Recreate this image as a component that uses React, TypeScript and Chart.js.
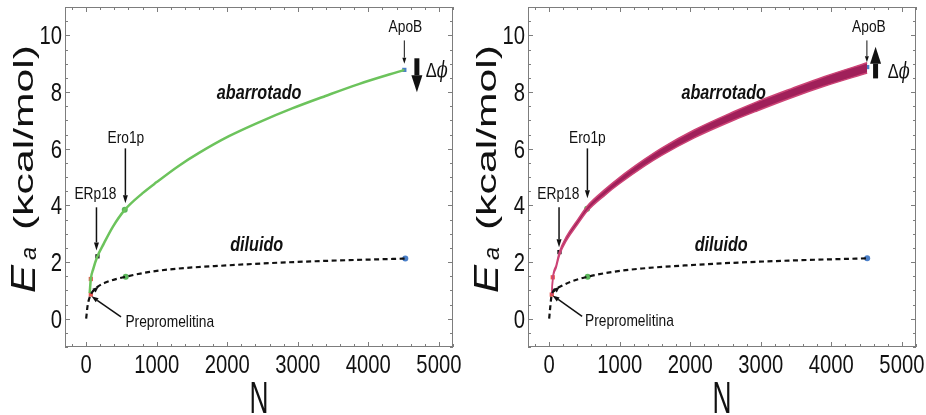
import React, { useEffect, useRef } from "react";
import { Chart, registerables } from "chart.js";
Chart.register(...registerables);

const SANS = "'Liberation Sans', Arial, sans-serif";
const NARROW_SX = 0.81; // horizontal compression to mimic a condensed face

// Axes
const xTickLabels = [0, 1000, 2000, 3000, 4000, 5000];
const yTickLabels = [0, 2, 4, 6, 8, 10];
const X_MIN = -300, X_MAX = 5200, Y_MIN = -1, Y_MAX = 11;

// Left panel: crowded (green) and dilute (dashed)
const leftCrowdedN = [50, 66, 100, 160, 250, 380, 547, 800, 1000, 1316, 1600, 2024, 2448, 2920, 3392, 3863, 4510];
const leftCrowdedEa = [0.9, 1.4, 1.75, 2.2, 2.65, 3.25, 3.84, 4.43, 4.82, 5.4, 5.85, 6.44, 6.93, 7.42, 7.86, 8.28, 8.78];
const leftDiluteN = [0, 20, 66, 160, 300, 561, 900, 1316, 2000, 2590, 3392, 4524];
const leftDiluteEa = [0, 0.45, 0.85, 1.12, 1.3, 1.48, 1.65, 1.77, 1.88, 1.96, 2.04, 2.12];
const leftMarkerN = [66, 66, 160, 547, 4510, 561, 4524];
const leftMarkerEa = [0.85, 1.4, 2.2, 3.84, 8.78, 1.48, 2.12];

// Right panel: crowded band (magenta) and dilute (dashed)
const rightBandN = [37, 51, 100, 146, 250, 400, 538, 800, 1000, 1349, 1600, 2056, 2622, 2952, 3424, 3896, 4508];
const rightBandUpper = [0.87, 1.43, 1.9, 2.36, 2.92, 3.48, 3.97, 4.58, 4.99, 5.62, 6.03, 6.66, 7.31, 7.66, 8.11, 8.54, 9.03];
const rightBandLower = [0.83, 1.37, 1.8, 2.24, 2.78, 3.32, 3.79, 4.38, 4.77, 5.38, 5.77, 6.38, 7.01, 7.34, 7.79, 8.2, 8.67];
const rightDiluteN = [0, 15, 37, 146, 300, 546, 900, 1316, 2000, 2600, 3400, 4508];
const rightDiluteEa = [0, 0.4, 0.85, 1.12, 1.3, 1.48, 1.65, 1.77, 1.89, 1.97, 2.05, 2.13];
const rightMarkerN = [37, 51, 146, 538, 4508, 546, 4508];
const rightMarkerEa = [0.85, 1.46, 2.35, 3.88, 8.88, 1.48, 2.13];

const markerColors = ["#e8554e", "#e8554e", "#111111", "#5bb75b", "#4a7fc8", "#5bb75b", "#4a7fc8"];
const markerShapes = ["rect", "rect", "rect", "circle", "rect", "circle", "circle"];

const pts = (xs: number[], ys: number[]) => xs.map((x, i) => ({ x, y: ys[i] }));

type Ann = {
  labels: { text: string; x: number; y: number; font: string; align?: CanvasTextAlign }[];
  arrows: { x1: number; y1: number; x2: number; y2: number; lw: number; hl: number; hw: number }[];
  delta: { x: number; y: number };
};

const leftAnn: Ann = {
  labels: [
    { text: "ApoB", x: 4525, y: 10.28, font: `17px ${SANS}` },
    { text: "Ero1p", x: 563, y: 6.36, font: `17px ${SANS}` },
    { text: "ERp18", x: 132, y: 4.39, font: `17px ${SANS}` },
    { text: "Prepromelitina", x: 556, y: -0.13, font: `17px ${SANS}`, align: "left" },
    { text: "abarrotado", x: 2452, y: 7.95, font: `italic bold 20px ${SANS}` },
    { text: "diluido", x: 2417, y: 2.59, font: `italic bold 20px ${SANS}` },
  ],
  arrows: [
    { x1: 4510, y1: 9.82, x2: 4510, y2: 9.0, lw: 1, hl: 6, hw: 4 },
    { x1: 4688, y1: 9.19, x2: 4688, y2: 7.99, lw: 5, hl: 17, hw: 11 },
    { x1: 556, y1: 6.01, x2: 556, y2: 4.07, lw: 1.5, hl: 8, hw: 5 },
    { x1: 146, y1: 3.93, x2: 146, y2: 2.41, lw: 1.5, hl: 8, hw: 5 },
    { x1: 494, y1: 0.06, x2: 75, y2: 0.79, lw: 1.5, hl: 7, hw: 5 },
    { x1: 95, y1: 0.95, x2: 175, y2: 1.13, lw: 1.5, hl: 6, hw: 5 },
  ],
  delta: { x: 4957, y: 8.8 },
};

const rightAnn: Ann = {
  labels: [
    { text: "ApoB", x: 4533, y: 10.28, font: `17px ${SANS}` },
    { text: "Ero1p", x: 542, y: 6.36, font: `17px ${SANS}` },
    { text: "ERp18", x: 130, y: 4.39, font: `17px ${SANS}` },
    { text: "Prepromelitina", x: 509, y: -0.1, font: `17px ${SANS}`, align: "left" },
    { text: "abarrotado", x: 2474, y: 7.95, font: `italic bold 20px ${SANS}` },
    { text: "diluido", x: 2439, y: 2.59, font: `italic bold 20px ${SANS}` },
  ],
  arrows: [
    { x1: 4504, y1: 9.82, x2: 4504, y2: 9.05, lw: 1, hl: 6, hw: 4 },
    { x1: 4627, y1: 8.48, x2: 4627, y2: 9.6, lw: 5, hl: 17, hw: 11 },
    { x1: 542, y1: 6.01, x2: 542, y2: 4.25, lw: 1.5, hl: 8, hw: 5 },
    { x1: 140, y1: 3.93, x2: 140, y2: 2.52, lw: 1.5, hl: 8, hw: 5 },
    { x1: 467, y1: 0.08, x2: 47, y2: 0.82, lw: 1.5, hl: 7, hw: 5 },
    { x1: 65, y1: 0.95, x2: 150, y2: 1.13, lw: 1.5, hl: 6, hw: 5 },
  ],
  delta: { x: 4943, y: 8.76 },
};

function drawArrow(ctx: CanvasRenderingContext2D, x1: number, y1: number, x2: number, y2: number, lw: number, hl: number, hw: number) {
  const ang = Math.atan2(y2 - y1, x2 - x1);
  const bx = x2 - hl * Math.cos(ang), by = y2 - hl * Math.sin(ang);
  ctx.lineWidth = lw;
  ctx.lineCap = "butt";
  ctx.beginPath();
  ctx.moveTo(x1, y1);
  ctx.lineTo(bx, by);
  ctx.stroke();
  const px = -Math.sin(ang) * hw / 2, py = Math.cos(ang) * hw / 2;
  ctx.beginPath();
  ctx.moveTo(x2, y2);
  ctx.lineTo(bx + px, by + py);
  ctx.lineTo(bx - px, by - py);
  ctx.closePath();
  ctx.fill();
}

// draw text with horizontal scale sx; align relative to anchor x
function scaledText(ctx: CanvasRenderingContext2D, text: string, x: number, y: number, sx: number, align: CanvasTextAlign) {
  const w = ctx.measureText(text).width * sx;
  const left = align === "center" ? x - w / 2 : align === "right" ? x - w : x;
  ctx.save();
  ctx.textAlign = "left";
  ctx.translate(left, y);
  ctx.scale(sx, 1);
  ctx.fillText(text, 0, 0);
  ctx.restore();
}

function stretchText(ctx: CanvasRenderingContext2D, text: string, x: number, y: number, targetW: number) {
  const w = ctx.measureText(text).width;
  ctx.save();
  ctx.textAlign = "left";
  ctx.translate(x, y);
  ctx.scale(targetW / w, 1);
  ctx.fillText(text, 0, 0);
  ctx.restore();
}

function overlay(ann: Ann) {
  return {
    id: "overlay",
    afterDraw(chart: any) {
      const { ctx, chartArea: a, scales } = chart;
      const xs = scales.x, ys = scales.y;
      const X = (v: number) => xs.getPixelForValue(v);
      const Y = (v: number) => ys.getPixelForValue(v);
      ctx.save();
      // frame
      ctx.strokeStyle = "#7d7d7d";
      ctx.lineWidth = 1;
      ctx.strokeRect(a.left + 0.5, a.top + 0.5, a.right - a.left - 1, a.bottom - a.top - 1);
      // inside ticks
      ctx.beginPath();
      for (let v = -200; v <= X_MAX; v += 200) {
        const len = v % 1000 === 0 ? 5 : 3;
        const px = Math.round(X(v)) + 0.5;
        ctx.moveTo(px, a.bottom); ctx.lineTo(px, a.bottom - len);
        ctx.moveTo(px, a.top); ctx.lineTo(px, a.top + len);
      }
      for (let v = -1; v <= Y_MAX; v += 0.5) {
        const len = Math.abs(v % 2) < 1e-9 ? 5 : 3;
        const py = Math.round(Y(v)) + 0.5;
        ctx.moveTo(a.left, py); ctx.lineTo(a.left + len, py);
        ctx.moveTo(a.right, py); ctx.lineTo(a.right - len, py);
      }
      ctx.stroke();

      // tick labels (condensed)
      ctx.fillStyle = "#111";
      ctx.textBaseline = "alphabetic";
      ctx.font = `25px ${SANS}`;
      for (const t of xs.ticks) {
        scaledText(ctx, String(t.value), X(t.value), a.bottom + 26, NARROW_SX, "center");
      }
      for (const t of ys.ticks) {
        scaledText(ctx, String(t.value), a.left - 3, Y(t.value) + 9, NARROW_SX, "right");
      }

      // annotations
      ctx.strokeStyle = "#111";
      ctx.textBaseline = "middle";
      for (const l of ann.labels) {
        ctx.font = l.font;
        scaledText(ctx, l.text, X(l.x), Y(l.y), NARROW_SX, l.align || "center");
      }
      for (const ar of ann.arrows) {
        drawArrow(ctx, X(ar.x1), Y(ar.y1), X(ar.x2), Y(ar.y2), ar.lw, ar.hl, ar.hw);
      }
      // delta phi
      ctx.textBaseline = "alphabetic";
      const dx = X(ann.delta.x), dy = Y(ann.delta.y);
      ctx.font = `21px ${SANS}`;
      stretchText(ctx, "\u0394", dx - 10, dy + 8, 11);
      ctx.font = `italic 23px 'DejaVu Serif', serif`;
      stretchText(ctx, "\u03D5", dx + 1, dy + 8, 11);

      // x title
      ctx.font = `44px ${SANS}`;
      const nw = 19;
      stretchText(ctx, "N", (a.left + a.right) / 2 - nw / 2, 413, nw);

      // y title (rotated)
      ctx.save();
      ctx.translate(35, 293);
      ctx.rotate(-Math.PI / 2);
      ctx.font = `italic 35px ${SANS}`;
      stretchText(ctx, "E", 0, 0, 28);
      ctx.font = `italic 22px ${SANS}`;
      stretchText(ctx, "a", 33, 1, 13);
      ctx.font = `27px ${SANS}`;
      stretchText(ctx, "(kcal/mol)", 63, -2, 185);
      ctx.restore();

      ctx.restore();
    },
  };
}

function baseOptions() {
  return {
    animation: false as const,
    responsive: false,
    devicePixelRatio: 1,
    layout: { padding: { top: 7, right: 10, left: 0, bottom: 0 } },
    plugins: { legend: { display: false }, tooltip: { enabled: false } },
    scales: {
      x: {
        type: "linear" as const,
        min: X_MIN,
        max: X_MAX,
        grid: { display: false, drawTicks: false },
        border: { display: false },
        afterBuildTicks: (s: any) => { s.ticks = xTickLabels.map((v) => ({ value: v })); },
        afterFit: (s: any) => { s.height = 68; s.paddingLeft = 0; s.paddingRight = 0; },
        ticks: { display: false },
      },
      y: {
        type: "linear" as const,
        min: Y_MIN,
        max: Y_MAX,
        grid: { display: false, drawTicks: false },
        border: { display: false },
        afterBuildTicks: (s: any) => { s.ticks = yTickLabels.map((v) => ({ value: v })); },
        afterFit: (s: any) => { s.width = 65; s.paddingTop = 0; s.paddingBottom = 0; },
        ticks: { display: false },
      },
    },
  };
}

function markerSet(ns: number[], eas: number[]) {
  return {
    data: pts(ns, eas),
    showLine: false,
    pointRadius: 3,
    pointStyle: markerShapes as any,
    pointBackgroundColor: markerColors,
    pointBorderColor: markerColors,
    pointBorderWidth: 0,
  };
}

function dilute(ns: number[], eas: number[]) {
  return {
    data: pts(ns, eas),
    showLine: true,
    borderColor: "#111",
    borderWidth: 2.2,
    borderDash: [5, 3.5],
    pointRadius: 0,
    cubicInterpolationMode: "monotone" as const,
    fill: false,
  };
}

function Panel({ side }: { side: "left" | "right" }) {
  const ref = useRef<HTMLCanvasElement>(null);
  useEffect(() => {
    if (!ref.current) return;
    const datasets: any[] =
      side === "left"
        ? [
            dilute(leftDiluteN, leftDiluteEa),
            {
              data: pts(leftCrowdedN, leftCrowdedEa),
              showLine: true,
              borderColor: "#6cc35c",
              borderWidth: 2.5,
              pointRadius: 0,
              cubicInterpolationMode: "monotone",
              fill: false,
            },
            markerSet(leftMarkerN, leftMarkerEa),
          ]
        : [
            dilute(rightDiluteN, rightDiluteEa),
            {
              data: pts(rightBandN, rightBandLower),
              showLine: true,
              borderColor: "#cc4476",
              borderWidth: 1.5,
              pointRadius: 0,
              cubicInterpolationMode: "monotone",
              fill: false,
            },
            {
              data: pts(rightBandN, rightBandUpper),
              showLine: true,
              borderColor: "#cc4476",
              borderWidth: 1.5,
              backgroundColor: "#a0205a",
              pointRadius: 0,
              cubicInterpolationMode: "monotone",
              fill: "-1",
            },
            markerSet(rightMarkerN, rightMarkerEa),
          ];
    const chart = new Chart(ref.current, {
      type: "scatter",
      data: { datasets },
      options: baseOptions() as any,
      plugins: [overlay(side === "left" ? leftAnn : rightAnn)],
    });
    return () => chart.destroy();
  }, [side]);
  return <canvas ref={ref} width={463} height={415} style={{ width: 463, height: 415, display: "block" }} />;
}

export default function App() {
  return (
    <div style={{ position: "fixed", left: 0, top: 0, width: 926, height: 415, display: "flex", background: "#fff" }}>
      <Panel side="left" />
      <Panel side="right" />
    </div>
  );
}
